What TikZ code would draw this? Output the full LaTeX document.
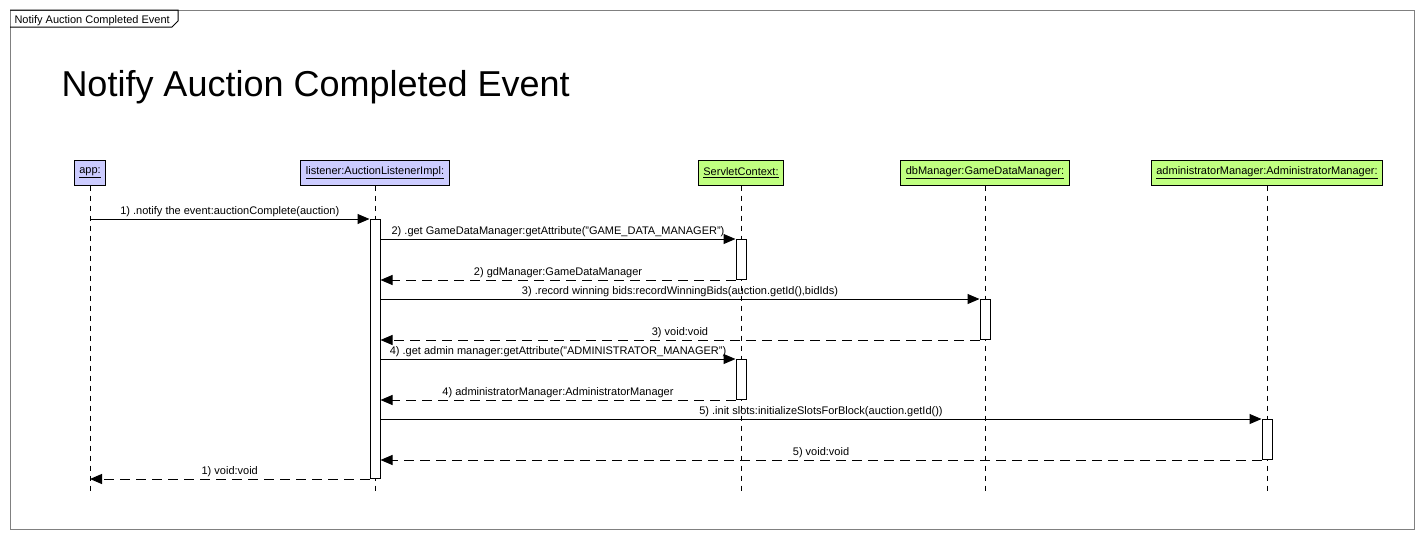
\documentclass[tikz,border=0pt]{standalone}
\usepackage{fontspec}
\setmainfont{Liberation Sans}
\usetikzlibrary{arrows.meta}
\definecolor{objblue}{RGB}{204,204,255}
\definecolor{objgreen}{RGB}{192,255,128}
\begin{document}
\begin{tikzpicture}[x=1pt,y=-1pt,line width=1pt,font=\fontsize{11}{13}\selectfont,
	obj/.style={draw,minimum height=25pt,inner xsep=5pt,inner ysep=0pt},
	life/.style={dash pattern=on 5pt off 5pt},
	act/.style={draw,fill=white,minimum width=10pt,inner sep=0pt,anchor=north},
	call/.style={-{Triangle[length=12pt,width=10pt]}},
	ret/.style={call,dash pattern=on 10pt off 6pt},
	lbl/.style={midway,above,inner sep=2pt}]
	\useasboundingbox (0,0) rectangle (1424,539);
	% frame and tab
	\draw[black!50] (10,10) rectangle (1414,529);
	\draw (10,10) -- (178,10) -- (178,21) -- (172,27) -- (10,27);
	\node[anchor=base west,inner sep=0pt] (tab) at (14,23) {Notify Auction Completed Event};
	\node[anchor=base west,inner sep=0pt,font=\fontsize{36}{40}\selectfont] (title) at (61,96) {Notify Auction Completed Event};
	% objects
	\node[obj,fill=objblue] (app) at (90,172.5) {\underline{app:}};
	\node[obj,fill=objblue] (listener) at (375,172.5) {\underline{listener:AuctionListenerImpl:}};
	\node[obj,fill=objgreen] (servlet) at (741,172.5) {\underline{ServletContext:}};
	\node[obj,fill=objgreen] (db) at (985,172.5) {\underline{dbManager:GameDataManager:}};
	\node[obj,fill=objgreen] (admin) at (1267,172.5) {\underline{administratorManager:AdministratorManager:}};
	\foreach \o in {app,listener,servlet,db,admin}
		\draw[life] (\o.south) -- (\o.south |- 0,493);
	% activations
	\node[act,minimum height=259pt] (actL) at (375,219) {};
	\node[act,minimum height=40pt] (actS1) at (741,239) {};
	\node[act,minimum height=40pt] (actD) at (985,299) {};
	\node[act,minimum height=40pt] (actS2) at (741,359) {};
	\node[act,minimum height=40pt] (actA) at (1267,419) {};
	% messages
	\draw[call] (actL.north -| app.south) -- (actL.north west) node[lbl]{1) .notify the event:auctionComplete(auction)};
	\draw[call] (actL.east |- actS1.north) -- (actS1.north west) node[lbl]{2) .get GameDataManager:getAttribute("GAME\_DATA\_MANAGER")};
	\draw[ret] (actS1.south west) -- (actL.east |- actS1.south) node[lbl]{2) gdManager:GameDataManager};
	\draw[call] (actL.east |- actD.north) -- (actD.north west) node[lbl]{3) .record winning bids:recordWinningBids(auction.getId(),bidIds)};
	\draw[ret] (actD.south west) -- (actL.east |- actD.south) node[lbl]{3) void:void};
	\draw[call] (actL.east |- actS2.north) -- (actS2.north west) node[lbl]{4) .get admin manager:getAttribute("ADMINISTRATOR\_MANAGER")};
	\draw[ret] (actS2.south west) -- (actL.east |- actS2.south) node[lbl]{4) administratorManager:AdministratorManager};
	\draw[call] (actL.east |- actA.north) -- (actA.north west) node[lbl]{5) .init slots:initializeSlotsForBlock(auction.getId())};
	\draw[ret] (actA.south west) -- (actL.east |- actA.south) node[lbl]{5) void:void};
	\draw[ret] (actL.south west) -- (actL.south -| app.south) node[lbl]{1) void:void};
\end{tikzpicture}
\end{document}
